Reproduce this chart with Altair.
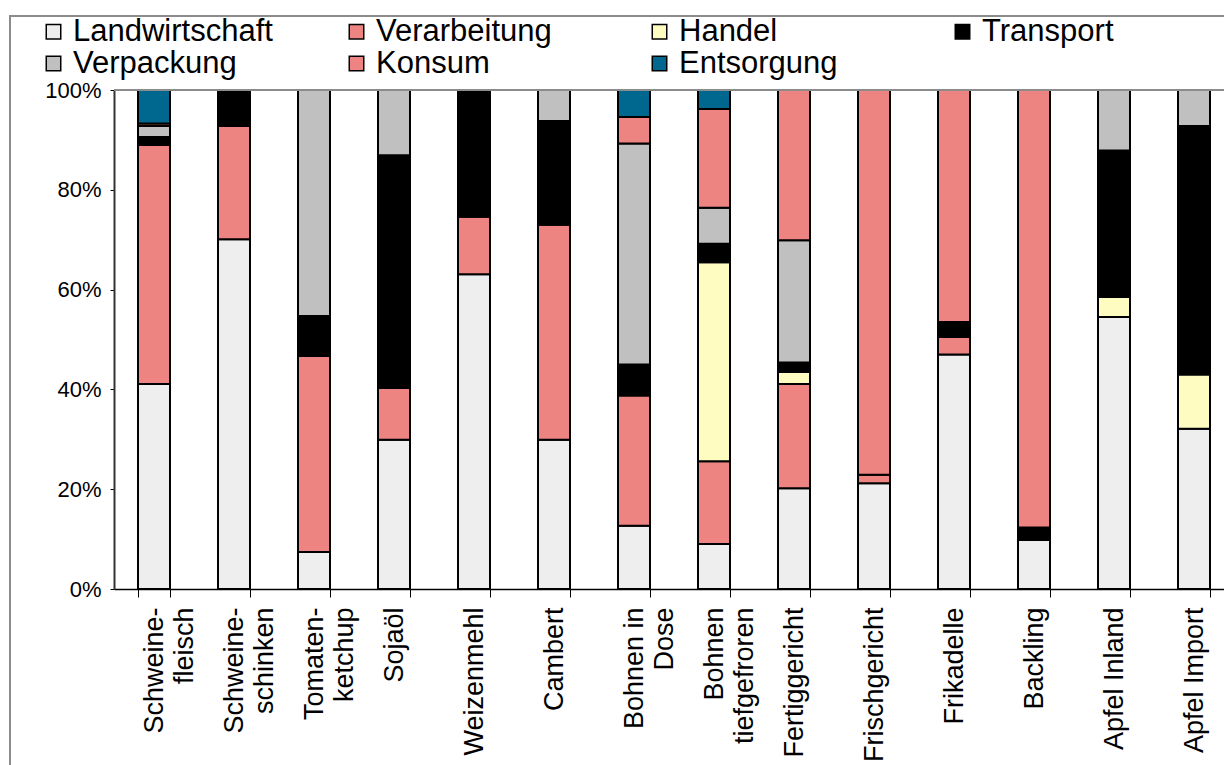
import altair as alt
import pandas as pd

# Products along the x axis ("\n" marks a line break in the tick label)
categories = [
    "Schweine-\nfleisch", "Schweine-\nschinken", "Tomaten-\nketchup", "Sojaöl",
    "Weizenmehl", "Cambert", "Bohnen in\nDose", "Bohnen\ntiefgefroren",
    "Fertiggericht", "Frischgericht", "Frikadelle", "Backling",
    "Apfel Inland", "Apfel Import",
]

# Stages of the product life cycle, bottom to top of each stack
stages = ["Landwirtschaft", "Verarbeitung", "Handel", "Transport",
          "Verpackung", "Konsum", "Entsorgung"]
stage_colors = ["#EEEEEE", "#EE8482", "#FFFCC2", "#000000",
                "#C0C0C0", "#EE8482", "#00688F"]

# Share of each stage in percent, one value per product
landwirtschaft = [41.1, 70.1, 7.4, 29.9, 63.1, 29.9, 12.7, 9.0, 20.2, 21.2, 47.0, 9.8, 54.5, 32.1]
verarbeitung = [47.9, 22.7, 39.3, 10.4, 11.5, 43.1, 26.1, 16.6, 20.9, 1.7, 3.5, 0, 0, 0]
handel = [0, 0, 0, 0, 0, 0, 0, 39.9, 2.4, 0, 0, 0, 4.0, 10.9]
transport = [1.6, 7.2, 8.0, 46.6, 25.4, 20.8, 6.2, 3.7, 1.9, 0, 3.0, 2.5, 29.4, 49.8]
verpackung = [2.2, 0, 45.3, 13.1, 0, 6.2, 44.3, 7.2, 24.5, 0, 0, 0, 12.1, 7.2]
konsum = [0.5, 0, 0, 0, 0, 0, 5.3, 19.8, 30.1, 77.1, 46.5, 87.7, 0, 0]
entsorgung = [6.7, 0, 0, 0, 0, 0, 5.4, 3.8, 0, 0, 0, 0, 0, 0]

shares = [landwirtschaft, verarbeitung, handel, transport, verpackung, konsum, entsorgung]
y_ticks = [0, 20, 40, 60, 80, 100]

FONT = "Liberation Sans"
NBSP = "\u00a0"

# Approximate advance widths (em) of Liberation Sans, used to centre the
# lines of a two-line tick label against each other while the whole block
# stays end-aligned at the axis.
NARROW = {"i": 0.222, "l": 0.222, "j": 0.222, "f": 0.278, "t": 0.278,
          "r": 0.333, "-": 0.333, " ": 0.278, "s": 0.5, "c": 0.5, "k": 0.5,
          "z": 0.5, "m": 0.833, "w": 0.722, "S": 0.667, "T": 0.611,
          "B": 0.667, "D": 0.722}


def line_width(text):
    return sum(NARROW.get(ch, 0.556) for ch in text)


def centred_lines(label):
    lines = label.split("\n")
    widths = [line_width(l) for l in lines]
    longest = max(widths)
    return "\n".join(l + NBSP * round((longest - w) / 2 / 0.278)
                     for l, w in zip(lines, widths))


tick_text = [centred_lines(c) for c in categories]

rows = []
for i, name in enumerate(tick_text):
    for j, stage in enumerate(stages):
        v = shares[j][i]
        if v > 0:
            rows.append({"Produkt": name, "Stufe": stage, "Anteil": v, "Reihe": j})
df = pd.DataFrame(rows)

bars = alt.Chart(df).mark_bar(stroke="black", strokeWidth=2).encode(
    x=alt.X(
        "Produkt:N",
        sort=tick_text,
        scale=alt.Scale(range=[0, 1120], paddingInner=0.6, paddingOuter=0.3),
        axis=alt.Axis(
            title=None,
            labelAngle=-90,
            labelExpr="split(datum.label, '\\n')",
            labelFont=FONT,
            labelFontSize=27,
            labelColor="black",
            labelLineHeight=30,
            labelPadding=10,
            labelLimit=400,
            labelOverlap=False,
            tickBand="extent",
            tickSize=8,
            tickColor="black",
            tickWidth=1,
            domainColor="black",
            domainWidth=1.5,
        ),
    ),
    y=alt.Y(
        "Anteil:Q",
        stack="zero",
        scale=alt.Scale(domain=[0, 100], nice=False),
        axis=alt.Axis(
            title=None,
            values=y_ticks,
            labelExpr="datum.value + '%'",
            labelFont=FONT,
            labelFontSize=22,
            labelColor="black",
            labelPadding=9,
            tickSize=4,
            tickColor="black",
            domainColor="#333333",
            domainWidth=2,
            grid=False,
        ),
    ),
    color=alt.Color(
        "Stufe:N",
        sort=stages,
        scale=alt.Scale(domain=stages, range=stage_colors),
        legend=alt.Legend(
            title=None,
            orient="none",
            legendX=-76,
            legendY=-74,
            columns=4,
            direction="horizontal",
            gridAlign="all",
            columnPadding=68,
            rowPadding=0,
            padding=0,
            symbolType="square",
            symbolSize=210,
            symbolStrokeColor="black",
            symbolStrokeWidth=1.5,
            symbolOpacity=1,
            labelFont=FONT,
            labelFontSize=31,
            labelColor="black",
            labelOffset=4,
            labelLimit=400,
        ),
    ),
    order=alt.Order("Reihe:Q", sort="ascending"),
)

# Grey line closing the plot area at 100 %
top_line = alt.Chart(pd.DataFrame({"Anteil": [100]})).mark_rule(
    color="#8C8C8C", strokeWidth=2
).encode(y="Anteil:Q", x=alt.value(0), x2=alt.value(1110))

# Thin grey frame around the whole figure
frame = alt.Chart(pd.DataFrame({"f": [0]})).mark_rect(
    filled=False, stroke="#8C8C8C", strokeWidth=2
).encode(x=alt.value(-104), y=alt.value(-74), x2=alt.value(1200), y2=alt.value(760))

chart = alt.layer(frame, bars, top_line).properties(
    width=1110,
    height=499,
    autosize=alt.AutoSizeParams(type="none"),
    padding={"left": 114, "top": 90, "right": 0, "bottom": 176},
    background="white",
).configure_view(stroke="transparent")

chart.save("out.html", embed_options={"renderer": "svg", "actions": False})
